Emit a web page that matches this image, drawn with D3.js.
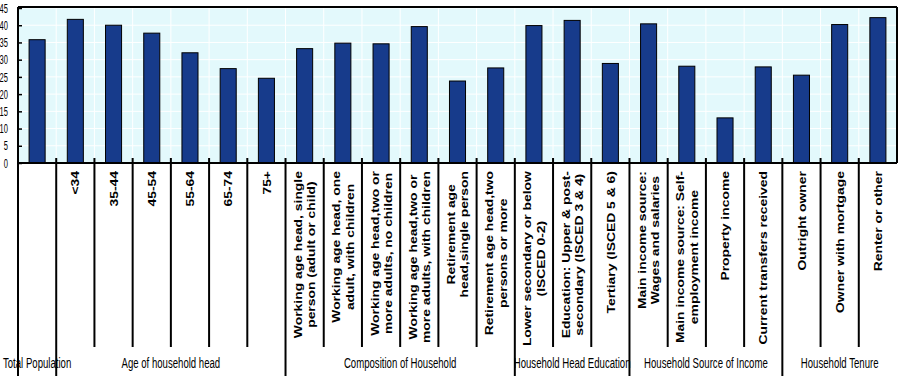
<!DOCTYPE html>
<html>
<head>
<meta charset="utf-8">
<script src="https://cdn.jsdelivr.net/npm/d3@7"></script>
<style>
  body { margin: 0; background: #fff; }
  svg { display: block; }
</style>
</head>
<body>
<div id="chart"></div>
<script>
// categories, split over lines with \n
var categories = [
    'Total Population',
    '<34', '35-44', '45-54', '55-64', '65-74', '75+',
    'Working age head, single\nperson (adult or child)',
    'Working age head, one\nadult, with children',
    'Working age head,two or\nmore adults, no children',
    'Working age head,two or\nmore adults, with children',
    'Retirement age\nhead,single person',
    'Retirement age head,two\npersons or more',
    'Lower secondary or below\n(ISCED 0-2)',
    'Education: Upper & post-\nsecondary (ISCED 3 & 4)',
    'Tertiary (ISCED 5 & 6)',
    'Main income source:\nWages and salaries',
    'Main income source: Self-\nemployment income',
    'Property income',
    'Current transfers received',
    'Outright owner',
    'Owner with mortgage',
    'Renter or other'
];
var values = [35.8, 41.7, 40.0, 37.7, 32.0, 27.4, 24.6, 33.2, 34.8, 34.6, 39.6, 23.8, 27.6,
    39.9, 41.4, 28.9, 40.4, 28.1, 13.1, 27.9, 25.5, 40.2, 42.2];
var groupNames = ['Total Population', 'Age of household head', 'Composition of Household',
    'Household Head Education', 'Household Source of Income', 'Household Tenure'];
var groupSizes = [1, 6, 6, 3, 4, 3];
var yTicks = [0, 5, 10, 15, 20, 25, 30, 35, 40, 45];

var W = 898, H = 376;
var plotLeft = 18, plotRight = 897, plotTop = 8, zero = 163, plotBottom = 376;

var svg = d3.select('#chart').append('svg')
    .attr('width', W)
    .attr('height', H);

var x = d3.scaleBand()
    .domain(d3.range(categories.length))
    .range([plotLeft, plotRight])
    .padding(0);
var y = d3.scaleLinear()
    .domain([0, 45])
    .range([zero, plotTop]);
var bw = x.bandwidth();

// plot background
svg.append('rect')
    .attr('x', plotLeft).attr('y', plotTop - 1)
    .attr('width', plotRight - plotLeft).attr('height', zero - plotTop + 1)
    .attr('fill', '#e3f9fc');

// white grid
svg.selectAll('.hgrid').data(yTicks).enter().append('line')
    .attr('x1', plotLeft).attr('x2', plotRight)
    .attr('y1', function(d){ return y(d); })
    .attr('y2', function(d){ return y(d); })
    .attr('stroke', '#fff').attr('stroke-width', 1);
svg.selectAll('.vgrid').data(d3.range(1, categories.length)).enter().append('line')
    .attr('x1', function(d){ return x(d); })
    .attr('x2', function(d){ return x(d); })
    .attr('y1', plotTop).attr('y2', zero)
    .attr('stroke', '#fff').attr('stroke-width', 1);

// bars
svg.selectAll('.bar').data(values).enter().append('rect')
    .attr('x', function(d, i){ return x(i) + bw * 0.29; })
    .attr('y', function(d){ return y(d); })
    .attr('width', bw * 0.42)
    .attr('height', function(d){ return zero - y(d); })
    .attr('fill', '#173b8b')
    .attr('stroke', '#000')
    .attr('stroke-width', 1);

// frame
svg.append('line').attr('x1', plotLeft).attr('x2', plotRight).attr('y1', plotTop - 1).attr('y2', plotTop - 1)
    .attr('stroke', '#000').attr('stroke-width', 2);
svg.append('line').attr('x1', plotRight).attr('x2', plotRight).attr('y1', plotTop - 1).attr('y2', zero)
    .attr('stroke', '#000').attr('stroke-width', 2);

// y axis, narrow digits
var yAxis = d3.axisLeft(y).tickValues(yTicks).tickSize(0).tickPadding(0);
var ya = svg.append('g').attr('transform', 'translate(' + plotLeft + ',0)').call(yAxis);
ya.select('.domain').remove();
ya.selectAll('text')
    .attr('x', null)
    .attr('font-family', '"Liberation Sans", Arial, sans-serif')
    .attr('font-size', 13)
    .attr('fill', '#000')
    .attr('transform', 'translate(-10,0) scale(0.58,1)');
ya.selectAll('.tick').append('line')
    .attr('x1', 0).attr('x2', 4)
    .attr('stroke', '#000').attr('stroke-width', 1.5);

// separators under the axis
var groupEdges = [0];
groupSizes.forEach(function(s){ groupEdges.push(groupEdges[groupEdges.length - 1] + s); });
d3.range(1, categories.length).forEach(function(k){
    var isGroup = groupEdges.indexOf(k) >= 0;
    svg.append('line')
        .attr('x1', x(k)).attr('x2', x(k))
        .attr('y1', zero - 5).attr('y2', isGroup ? plotBottom : 347)
        .attr('stroke', '#000').attr('stroke-width', 2);
});
svg.append('line').attr('x1', plotLeft).attr('x2', plotLeft).attr('y1', plotTop - 1).attr('y2', plotBottom)
    .attr('stroke', '#000').attr('stroke-width', 2);

// zero line
svg.append('line').attr('x1', plotLeft).attr('x2', plotRight).attr('y1', zero).attr('y2', zero)
    .attr('stroke', '#000').attr('stroke-width', 2);

// rotated category labels (glyphs squashed across the line like the source)
var labelTop = 171, squash = 0.85, lineGap = 13.4;
categories.forEach(function(c, i){
    if (i === 0) return;
    var lines = c.split('\n');
    var g = svg.append('g');
    var texts = lines.map(function(l, j){
        return g.append('text')
            .attr('x', 0)
            .attr('y', (j - (lines.length - 1) / 2) * lineGap / squash)
            .attr('dy', '0.35em')
            .attr('text-anchor', 'middle')
            .attr('font-family', '"Liberation Sans", Arial, sans-serif')
            .attr('font-weight', 'bold')
            .attr('font-size', 13.9)
            .attr('fill', '#000')
            .text(l);
    });
    var maxLen = d3.max(texts, function(t){ return t.node().getComputedTextLength(); });
    var cx = x(i) + bw / 2;
    g.attr('transform', 'translate(' + cx + ',' + (labelTop + maxLen / 2) + ') rotate(-90) scale(1,' + squash + ')');
});

// group labels, condensed
groupNames.forEach(function(n, gi){
    var a = groupEdges[gi], b = groupEdges[gi + 1];
    var cx = (x(a) + x(b - 1) + bw) / 2;
    svg.append('text')
        .attr('transform', 'translate(' + cx + ',368) scale(0.64,1)')
        .attr('text-anchor', 'middle')
        .attr('font-family', '"Liberation Sans", Arial, sans-serif')
        .attr('font-size', 15)
        .attr('fill', '#000')
        .text(n);
});
</script>
</body>
</html>
